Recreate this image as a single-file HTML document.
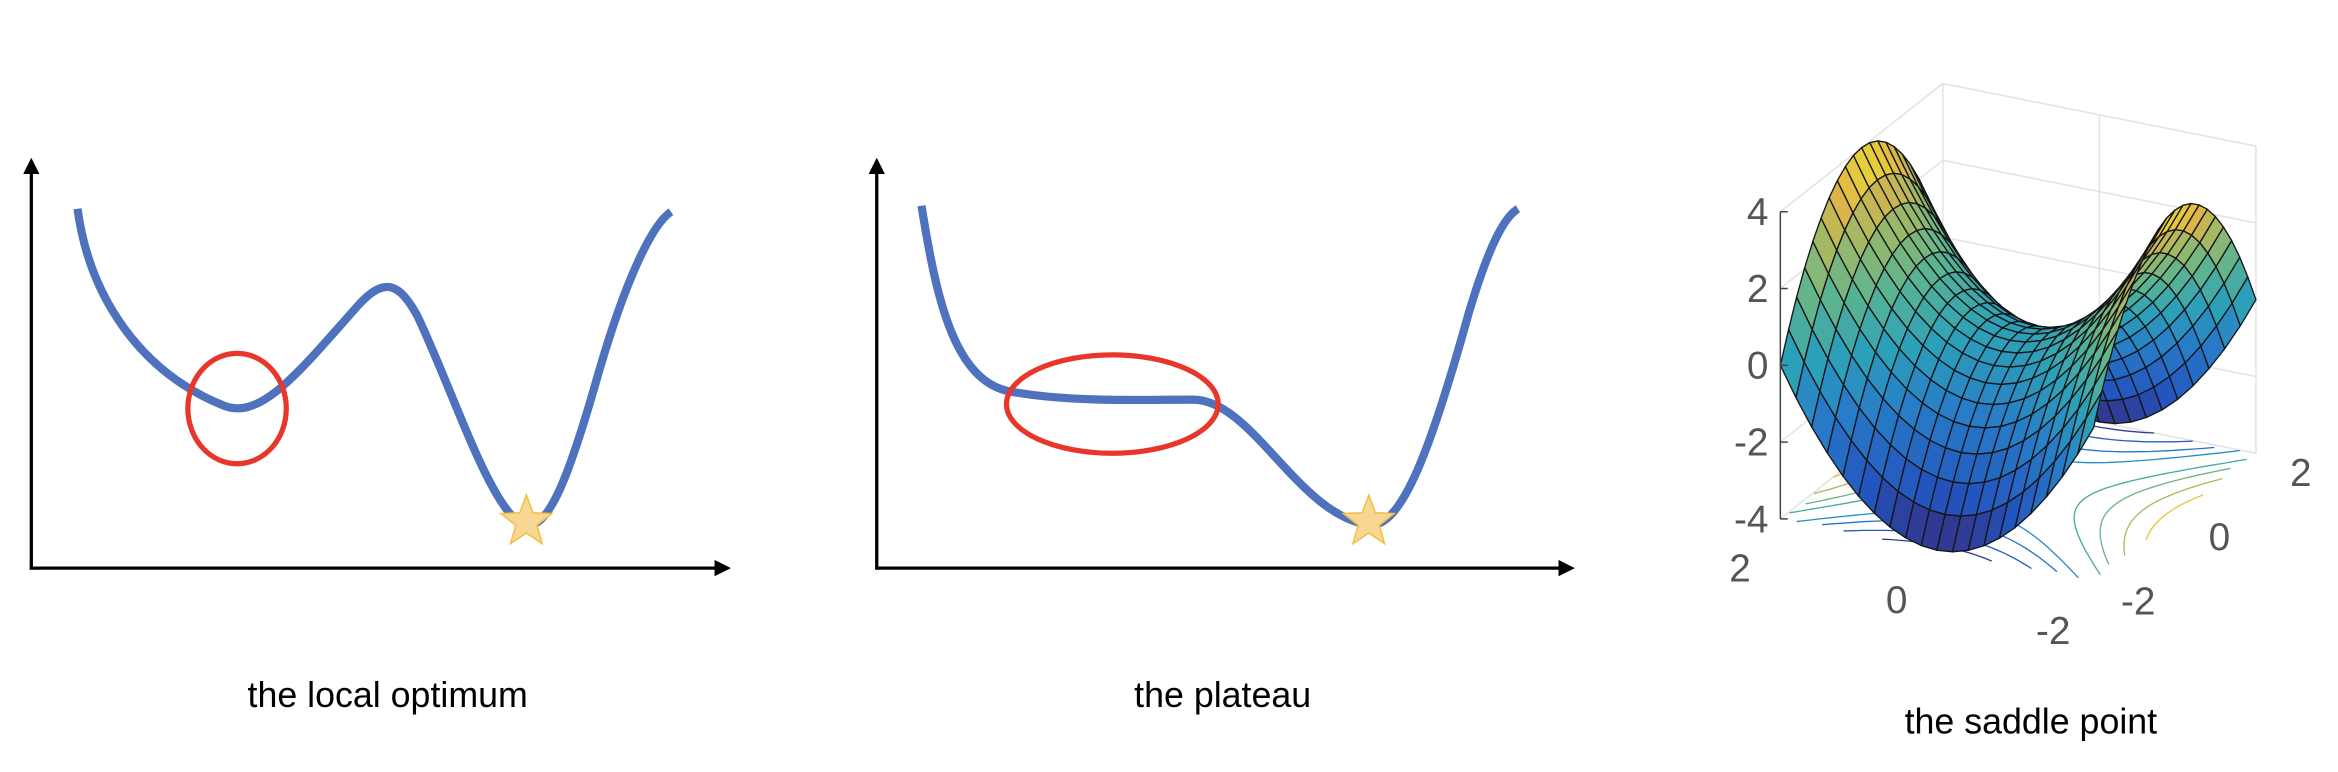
<!DOCTYPE html>
<html><head><meta charset="utf-8"><style>
html,body{margin:0;padding:0;background:#fff;width:2338px;height:772px;overflow:hidden}
svg{display:block}
text{font-family:"Liberation Sans",sans-serif}
</style></head><body>
<svg id="fig" width="2338" height="772" viewBox="0 0 1568 517.75" preserveAspectRatio="none" xmlns="http://www.w3.org/2000/svg">
<defs>
<marker id="arr" viewBox="0 0 10 10" refX="8" refY="5" markerWidth="5" markerHeight="5" orient="auto"><path d="M0,0 L10,5 L0,10 z" fill="#000"/></marker>
</defs>
<g>
<line x1="21" y1="382" x2="21" y2="108" stroke="#000" stroke-width="2.2" marker-end="url(#arr)"/>
<line x1="20" y1="381" x2="488" y2="381" stroke="#000" stroke-width="2.2" marker-end="url(#arr)"/>
<path d="M52,140 C60,200 95,250 150,272 C175,282 200,250 240,205 C258,185 268,190 280,212 C305,265 330,345 352,352 C368,356 382,318 400,255 C420,185 438,150 450,142" fill="none" stroke="#4e72be" stroke-width="5.5"/>
<ellipse cx="159" cy="274" rx="33" ry="37" fill="none" stroke="#e8372a" stroke-width="3.5"/>
<polygon id="star1" fill="#f8d694" stroke="#f0c040" stroke-width="1"/>
<text x="260" y="474" text-anchor="middle" font-size="24">the local optimum</text>
</g>
<g>
<line x1="588" y1="382" x2="588" y2="108" stroke="#000" stroke-width="2.2" marker-end="url(#arr)"/>
<line x1="587" y1="381" x2="1054" y2="381" stroke="#000" stroke-width="2.2" marker-end="url(#arr)"/>
<path d="M618,138 C628,200 640,258 680,263 C720,270 770,268 800,268 C840,268 870,345 918,352 C940,355 960,300 985,210 C1000,160 1010,145 1018,140" fill="none" stroke="#4e72be" stroke-width="5.5"/>
<ellipse cx="746" cy="271" rx="71" ry="33" fill="none" stroke="#e8372a" stroke-width="3.5"/>
<polygon id="star2" fill="#f8d694" stroke="#f0c040" stroke-width="1"/>
<text x="820" y="474" text-anchor="middle" font-size="24">the plateau</text>
</g>
<g id="saddle"></g>
<text x="1362" y="492" text-anchor="middle" font-size="24">the saddle point</text>
</svg>
<script>
const zTicks=[4,2,0,-2,-4];
const pTicks=[2,0,-2];
const qTicks=[-2,0,2];
const gridN=20;
const NS="http://www.w3.org/2000/svg";
function star(id,cx,cy){const pts=[];for(let i=0;i<10;i++){const r=i%2?7.5:18;const a=-Math.PI/2+i*Math.PI/5;pts.push((cx+r*Math.cos(a)).toFixed(1)+","+(cy+r*Math.sin(a)).toFixed(1));}document.getElementById(id).setAttribute("points",pts.join(" "));}
star("star1",353,350);star("star2",918,350);
const g=document.getElementById("saddle");
function proj(p,q,z){return [1404+(p+2)*-52.5+(q+2)*27.25, 390+(p+2)*-10.5+(q+2)*-21.5-(z+4)*25.75];}
function el(tag,attrs){const e=document.createElementNS(NS,tag);for(const k in attrs)e.setAttribute(k,attrs[k]);g.appendChild(e);return e;}
const stops=[[0,[55,45,125]],[0.15,[35,85,190]],[0.35,[40,125,200]],[0.5,[45,160,185]],[0.65,[90,180,145]],[0.8,[165,185,100]],[0.9,[225,180,70]],[1,[235,230,50]]];
function cmap(t){t=Math.max(0,Math.min(1,t));for(let i=1;i<stops.length;i++){if(t<=stops[i][0]){const a=stops[i-1],b=stops[i];const f=(t-a[0])/(b[0]-a[0]);const c=a[1].map((v,k)=>Math.round(v+(b[1][k]-v)*f));return "rgb("+c.join(",")+")";}}return "rgb(235,230,50)";}
let e;
[[[2,-2,4],[2,2,4]],[[2,2,4],[-2,2,4]],[[2,2,-4],[2,2,4]],[[-2,2,-4],[-2,2,4]],[[0,2,-4],[0,2,4]],[[2,0,-4],[2,0,4]],[[2,-2,0],[2,2,0],[-2,2,0]],[[2,-2,2],[2,2,2],[-2,2,2]],[[2,-2,-2],[2,2,-2],[-2,2,-2]],[[2,-2,-4],[2,2,-4],[-2,2,-4]]].forEach(L=>{
e=el("polyline",{points:L.map(a=>proj(...a).join(",")).join(" "),fill:"none",stroke:"#e2e2e2","stroke-width":1});


});
const levels=[-3.5,-2.5,-1.5,-0.7,0.7,1.5,2.5,3.5];
levels.forEach(lv=>{
 for(const s of [-1,1]){const pts=[];
  for(let i=0;i<=40;i++){const tt=-2+4*i/40;let p,q;
   if(lv>0){q=tt;const v=lv+q*q;p=s*Math.sqrt(v);if(Math.abs(p)>2)continue;}
   else{p=tt;const v=p*p-lv;q=s*Math.sqrt(v);if(Math.abs(q)>2)continue;}
   pts.push(proj(p,q,-4).map(n=>n.toFixed(1)).join(","));}
  if(pts.length>1){e=el("polyline",{points:pts.join(" "),fill:"none",stroke:cmap((lv+4)/8),"stroke-width":0.9});
  
  }
 }
});
const quads=[];
for(let i=0;i<gridN;i++)for(let j=0;j<gridN;j++){
 const p0=-2+4*i/gridN,p1=-2+4*(i+1)/gridN,q0=-2+4*j/gridN,q1=-2+4*(j+1)/gridN;
 const c=[[p0,q0],[p1,q0],[p1,q1],[p0,q1]];
 const zs=c.map(([p,q])=>p*p-q*q);
 quads.push({c,zs,d:(p0+p1)/2+(q0+q1)/2});
}
quads.sort((a,b)=>b.d-a.d);
quads.forEach(Q=>{const zm=Q.zs.reduce((a,b)=>a+b)/4;
 e=el("polygon",{points:Q.c.map(([p,q],k)=>proj(p,q,Q.zs[k]).map(n=>n.toFixed(1)).join(",")).join(" "),fill:cmap((zm+4)/8),stroke:"#151515","stroke-width":0.9,"stroke-linejoin":"round"});
 
 
});
const zx=1194;
function zy(z){return 245-z*25.75;}
e=el("line",{x1:zx,y1:zy(4),x2:zx,y2:zy(-4),stroke:"#444","stroke-width":1});


zTicks.forEach(z=>{
 e=el("line",{x1:zx,y1:zy(z),x2:zx+5,y2:zy(z),stroke:"#444","stroke-width":1});
 
 
 e=el("text",{x:zx-8,y:zy(z)+9,"text-anchor":"end","font-size":26,fill:"#555"});e.textContent=z;
 
 
});
pTicks.forEach(p=>{const [x,y]=proj(p,-2,-4);
 e=el("text",{x:x-27,y:y+42,"text-anchor":"middle","font-size":26,fill:"#555"});e.textContent=p;
 
 
});
qTicks.forEach(q=>{const [x,y]=proj(-2,q,-4);
 e=el("text",{x:x+30,y:y+22,"text-anchor":"middle","font-size":26,fill:"#555"});e.textContent=q;
 
 
});
</script>
</body></html>
